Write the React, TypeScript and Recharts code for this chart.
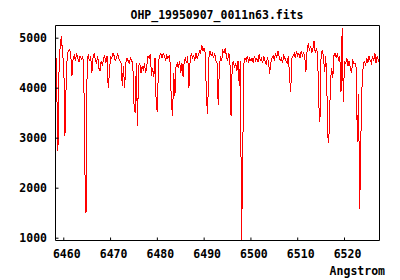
import { LineChart, Line, XAxis, YAxis } from 'recharts';

// FITS header style sampling: first wavelength and step (Angstrom)
const CRVAL1 = 6458.25;
const CDELT1 = 0.25;

// flux, one row = 2 Angstrom (8 samples)
const flux = [
  4950, 4000, 2750, 4450, 4880, 5050, 4650, 4500, // 6458.25
  3050, 4050, 4700, 4750, 4780, 4650, 4250, 4600, // 6460.25
  4650, 4550, 4700, 4600, 4520, 4650, 4580, 4620, // 6462.25
  4550, 2400, 1500, 4600, 4650, 4550, 4650, 4300, // 6464.25
  4600, 4700, 4550, 4500, 4650, 4400, 4350, 4550, // 6466.25
  4450, 4600, 4650, 4500, 4650, 4000, 4300, 4650, // 6468.25
  4600, 4700, 4650, 4550, 4600, 4700, 4600, 4550, // 6470.25
  4500, 4050, 4450, 4000, 4500, 4600, 4550, 4500, // 6472.25
  4600, 4550, 4500, 3690, 3500, 4500, 3250, 4450, // 6474.25
  4500, 4300, 4450, 4350, 4500, 4300, 4450, 4650, // 6476.25
  4600, 4680, 4250, 4400, 4220, 4600, 3700, 3520, // 6478.25
  4550, 4650, 4700, 4600, 4700, 4650, 4550, 4650, // 6480.25
  4600, 4650, 4500, 3690, 3450, 4300, 3850, 4450, // 6482.25
  4500, 4400, 4550, 4300, 4500, 4220, 4550, 4600, // 6484.25
  4500, 4650, 4000, 4550, 4700, 4600, 4650, 4550, // 6486.25
  4700, 4600, 4650, 4750, 4700, 4870, 4750, 4800, // 6488.25
  4700, 3800, 3480, 4600, 4750, 4650, 4700, 4600, // 6490.25
  4700, 4550, 4500, 3660, 4400, 4650, 4550, 4750, // 6492.25
  4700, 4800, 4650, 4550, 4700, 4600, 3440, 4450, // 6494.25
  4550, 4400, 4500, 4350, 4550, 4040, 4550, 900,  // 6496.25
  2700, 4500, 4600, 4550, 4650, 4500, 4600, 4550, // 6498.25
  4600, 4500, 4650, 4550, 4600, 4520, 4680, 4550, // 6500.25
  4600, 4500, 4650, 4550, 4480, 4600, 4550, 4290, // 6502.25
  4500, 4600, 4650, 4550, 4700, 4600, 4750, 4650, // 6504.25
  4550, 4600, 4500, 4650, 4600, 4550, 4500, 4650, // 6506.25
  4250, 3920, 4600, 4650, 4700, 4600, 4750, 4650, // 6508.25
  4700, 4600, 4750, 4650, 4700, 4650, 4330, 4750, // 6510.25
  4900, 4750, 4850, 4700, 4800, 4950, 4700, 4800, // 6512.25
  4700, 3670, 3330, 4700, 4750, 4650, 4320, 4650, // 6514.25
  3890, 2900, 3130, 4150, 4400, 4200, 4650, 4700, // 6516.25
  4600, 4700, 4550, 4650, 3920, 5200, 3730, 4550, // 6518.25
  4500, 4600, 4450, 4550, 4400, 4300, 4550, 4500, // 6520.25
  4500, 4400, 2920, 3890, 1590, 3020, 4050, 4450, // 6522.25
  4550, 4450, 4600, 4500, 4650, 4550, 4500, 4650, // 6524.25
  4550, 4700, 4500, 4650, 4550, 4600,             // 6526.25
];

const xTicks = [6460, 6470, 6480, 6490, 6500, 6510, 6520];
const yTicks = [1000, 2000, 3000, 4000, 5000];

const data = flux.map((f, i) => ({ wl: CRVAL1 + i * CDELT1, flux: f }));

const font = "'DejaVu Sans Mono', monospace";
const tickStyle = { fontFamily: font, fontSize: 11.5, fontWeight: 'bold', fill: '#000' };

export default function App() {
  return (
    <div style={{ position: 'absolute', left: 0, top: 0, width: 400, height: 280, background: '#fff' }}>
      <LineChart width={400} height={280} data={data} margin={{ top: 0.5, right: 0, bottom: 0, left: 0.5 }}>
        <XAxis
          dataKey="wl"
          type="number"
          domain={[6458.23, 6527.48]}
          ticks={xTicks}
          height={39.5}
          tickSize={-3}
          tickMargin={12}
          stroke="#000"
          tick={{ ...tickStyle, dx: 3 }}
          allowDataOverflow
        />
        <XAxis
          xAxisId="top"
          orientation="top"
          dataKey="wl"
          type="number"
          domain={[6458.23, 6527.48]}
          ticks={xTicks}
          height={25}
          tickSize={-3}
          stroke="#000"
          tick={false}
          allowDataOverflow
        />
        <YAxis
          type="number"
          domain={[954, 5254]}
          ticks={yTicks}
          width={55}
          tickSize={-3}
          tickMargin={11.5}
          stroke="#000"
          tick={tickStyle}
          allowDataOverflow
        />
        <YAxis
          yAxisId="right"
          orientation="right"
          type="number"
          domain={[954, 5254]}
          ticks={yTicks}
          width={20.5}
          tickSize={-3}
          stroke="#000"
          tick={false}
          allowDataOverflow
        />
        <Line
          dataKey="flux"
          stroke="#ff0000"
          strokeWidth={1}
          shapeRendering="crispEdges"
          dot={false}
          isAnimationActive={false}
        />
      </LineChart>
      <div
        style={{
          position: 'absolute', left: 55, top: 8, width: 324, textAlign: 'center',
          fontFamily: font, fontSize: 11.5, fontWeight: 'bold', lineHeight: '14px', color: '#000',
        }}
      >
        OHP_19950907_0011n63.fits
      </div>
      <div
        style={{
          position: 'absolute', right: 15, top: 264,
          fontFamily: font, fontSize: 11.5, fontWeight: 'bold', lineHeight: '14px', color: '#000',
        }}
      >
        Angstrom
      </div>
    </div>
  );
}
